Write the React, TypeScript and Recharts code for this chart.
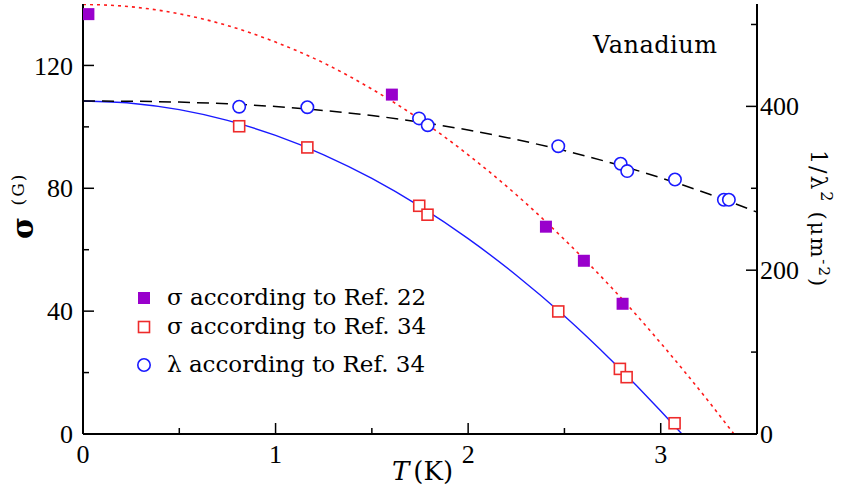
import React from 'react';
import { ComposedChart, Line, Scatter, XAxis, YAxis, Legend, Customized } from 'recharts';

const FONT_TEXT = 'DejaVu Serif';
const FONT_NUM = 'Liberation Serif';

// sigma according to Ref. 22 (filled purple squares)
const ref22T = [0.028, 1.604, 2.404, 2.601, 2.802];
const ref22Sigma = [136.7, 110.5, 67.5, 56.4, 42.4];

// sigma according to Ref. 34 (open red squares)
const ref34T = [0.811, 1.165, 1.746, 1.789, 2.468, 2.788, 2.823, 3.072];
const ref34Sigma = [100.2, 93.3, 74.3, 71.4, 39.9, 21.2, 18.5, 3.5];

// 1/lambda^2 according to Ref. 34 (open blue circles, right axis)
const lambdaT = [0.811, 1.165, 1.745, 1.79, 2.468, 2.792, 2.826, 3.074, 3.328, 3.354];
const lambdaInv2 = [399.6, 399.0, 385.3, 377.0, 351.4, 330.0, 321.0, 310.7, 286.0, 286.0];

// red dotted curve (left axis)
const redCurveT = [0, 0.25, 0.5, 0.75, 1, 1.25, 1.5, 1.75, 2, 2.25, 2.5, 2.75, 3, 3.25, 3.38];
const redCurveSigma = [139.9, 139.1, 136.8, 133.0, 127.6, 120.8, 112.3, 102.4, 90.9, 77.9, 63.3, 47.3, 29.6, 10.5, 0];

// blue solid curve (left axis)
const blueCurveT = [0, 0.25, 0.5, 0.75, 1, 1.25, 1.5, 1.75, 2, 2.25, 2.5, 2.75, 3, 3.11];
const blueCurveSigma = [108.4, 107.7, 105.6, 102.1, 97.2, 90.9, 83.2, 74.1, 63.6, 51.7, 38.4, 23.6, 7.5, 0];

// black dashed curve (right axis)
const blackCurveT = [0, 0.25, 0.5, 0.75, 1, 1.25, 1.5, 1.75, 2, 2.25, 2.5, 2.75, 3, 3.25, 3.5];
const blackCurveInv2 = [406.5, 406.3, 405.2, 403.1, 399.8, 395.0, 388.8, 380.8, 371.1, 359.5, 346.0, 330.5, 312.8, 293.0, 270.9];

// ticks
const xTicks = [0, 0.5, 1, 1.5, 2, 2.5, 3];
const xTickLabels = ['0', '', '1', '', '2', '', '3'];
const leftTicks = [0, 20, 40, 60, 80, 100, 120];
const leftTickLabels = ['0', '', '40', '', '80', '', '120'];
const rightTicks = [0, 100, 200, 300, 400, 500];
const rightTickLabels = ['0', '', '200', '', '400', ''];

const legendNames = ['σ according to Ref. 22', 'σ according to Ref. 34', 'λ according to Ref. 34'];

const zip = (xs: number[], ys: number[]) => xs.map((T, i) => ({ T, v: ys[i] }));

const ref22Data = zip(ref22T, ref22Sigma);
const ref34Data = zip(ref34T, ref34Sigma);
const lambdaData = zip(lambdaT, lambdaInv2);
const redCurve = zip(redCurveT, redCurveSigma);
const blueCurve = zip(blueCurveT, blueCurveSigma);
const blackCurve = zip(blackCurveT, blackCurveInv2);

const PURPLE = '#9900cc';
const RED = '#ee2b2b';
const BLUE = '#1a1aff';

const MAJOR = 11;
const MINOR = 6;

const numStyle: React.CSSProperties = { fontFamily: FONT_NUM, fontSize: 26 };
const textStyle = (size: number, extra: React.CSSProperties = {}): React.CSSProperties => ({
  fontFamily: FONT_TEXT,
  fontSize: size,
  ...extra,
});

const labelFor = (ticks: number[], labels: string[], v: number) => {
  const i = ticks.indexOf(v);
  return i >= 0 ? labels[i] : '';
};

const BottomTick = (props: any) => {
  const { x, y, payload } = props;
  const lab = labelFor(xTicks, xTickLabels, payload.value);
  const len = lab ? MAJOR : MINOR;
  return (
    <g>
      <line x1={x} x2={x} y1={y} y2={y - len} stroke="#000" strokeWidth={1.5} />
      {lab && (
        <text x={x} y={y + 20} dy="0.35em" textAnchor="middle" style={numStyle} fill="#000">
          {lab}
        </text>
      )}
    </g>
  );
};

const TopTick = (props: any) => {
  const { x, y, payload } = props;
  const lab = labelFor(xTicks, xTickLabels, payload.value);
  const len = lab ? MAJOR : MINOR;
  return <line x1={x} x2={x} y1={y} y2={y + len} stroke="#000" strokeWidth={1.5} />;
};

const LeftTick = (props: any) => {
  const { x, y, payload } = props;
  const lab = labelFor(leftTicks, leftTickLabels, payload.value);
  const len = lab ? MAJOR : MINOR;
  return (
    <g>
      <line x1={x} x2={x + len} y1={y} y2={y} stroke="#000" strokeWidth={1.5} />
      {lab && (
        <text x={x - 10} y={y} dy="0.35em" textAnchor="end" style={numStyle} fill="#000">
          {lab}
        </text>
      )}
    </g>
  );
};

const RightTick = (props: any) => {
  const { x, y, payload } = props;
  const lab = labelFor(rightTicks, rightTickLabels, payload.value);
  const len = lab ? MAJOR : MINOR;
  return (
    <g>
      <line x1={x - len} x2={x} y1={y} y2={y} stroke="#000" strokeWidth={1.5} />
      {lab && (
        <text x={x + 3} y={y} dy="0.35em" textAnchor="start" style={numStyle} fill="#000">
          {lab}
        </text>
      )}
    </g>
  );
};

const FilledSquare = (props: any) => {
  const { cx, cy } = props;
  if (cx == null || cy == null) return null;
  return <rect x={cx - 6} y={cy - 6} width={12} height={12} fill={PURPLE} />;
};

const OpenSquare = (props: any) => {
  const { cx, cy } = props;
  if (cx == null || cy == null) return null;
  return <rect x={cx - 5.5} y={cy - 5.5} width={11} height={11} fill="#fff" stroke={RED} strokeWidth={1.6} />;
};

const OpenCircle = (props: any) => {
  const { cx, cy } = props;
  if (cx == null || cy == null) return null;
  return <circle cx={cx} cy={cy} r={6.2} fill="#fff" stroke={BLUE} strokeWidth={1.6} />;
};

const legendRowY = [15, 44, 82];

const renderLegend = () => (
  <svg width={330} height={100} style={{ display: 'block' }}>
    {legendNames.map((name, i) => {
      const cy = legendRowY[i];
      const mx = 16;
      let marker = null;
      if (i === 0) marker = <rect x={mx - 6} y={cy - 6} width={12} height={12} fill={PURPLE} />;
      else if (i === 1)
        marker = <rect x={mx - 5.5} y={cy - 5.5} width={11} height={11} fill="#fff" stroke={RED} strokeWidth={1.6} />;
      else marker = <circle cx={mx} cy={cy} r={6.2} fill="#fff" stroke={BLUE} strokeWidth={1.6} />;
      return (
        <g key={i}>
          {marker}
          <text x={39} y={cy + 7} style={textStyle(23)} fill="#000">
            {name}
          </text>
        </g>
      );
    })}
  </svg>
);

const Annotations = () => (
  <g>
    <text x={593} y={53} style={textStyle(24, { letterSpacing: 0.5 })} fill="#000">
      Vanadium
    </text>
    <text
      x={33}
      y={228}
      transform="rotate(-90 33 228)"
      textAnchor="middle"
      style={textStyle(30, { fontWeight: 'bold' })}
      fill="#000"
    >
      σ
    </text>
    <text
      x={24}
      y={189}
      transform="rotate(-90 24 189)"
      textAnchor="middle"
      style={textStyle(17, { letterSpacing: 2 })}
      fill="#000"
    >
      (G)
    </text>
    <text x={392} y={480} style={textStyle(26)} fill="#000">
      <tspan fontStyle="italic">T</tspan>
      <tspan dx={4}>(K)</tspan>
    </text>
    <text
      x={811}
      y={150}
      transform="rotate(90 811 150)"
      style={textStyle(22, { letterSpacing: 2 })}
      fill="#000"
    >
      1/λ
      <tspan fontSize={16} dy={-10}>2</tspan>
      <tspan fontSize={21} dx={8} dy={10}>(μm</tspan>
      <tspan fontSize={15} dy={-8}>-2</tspan>
      <tspan fontSize={21} dy={8}>)</tspan>
    </text>
  </g>
);

export default function App() {
  return (
    <div style={{ position: 'absolute', left: 0, top: 0, width: 843, height: 493, background: '#fff' }}>
      <ComposedChart width={843} height={493} margin={{ top: 4, right: 0, bottom: 0, left: 0 }}>
        <XAxis
          xAxisId="bottom"
          dataKey="T"
          type="number"
          domain={[0, 3.5]}
          allowDataOverflow
          ticks={xTicks}
          interval={0}
          height={59}
          tickSize={0}
          tickMargin={0}
          axisLine={{ stroke: '#000', strokeWidth: 2 }}
          tickLine={false}
          tick={<BottomTick />}
        />
        <XAxis
          xAxisId="top"
          orientation="top"
          dataKey="T"
          type="number"
          domain={[0, 3.5]}
          allowDataOverflow
          ticks={xTicks}
          interval={0}
          height={0}
          tickSize={0}
          tickMargin={0}
          axisLine={{ stroke: '#000', strokeWidth: 2 }}
          tickLine={false}
          tick={<TopTick />}
        />
        <YAxis
          yAxisId="left"
          type="number"
          domain={[0, 140]}
          allowDataOverflow
          ticks={leftTicks}
          interval={0}
          width={83}
          tickSize={0}
          tickMargin={0}
          axisLine={{ stroke: '#000', strokeWidth: 2 }}
          tickLine={false}
          tick={<LeftTick />}
        />
        <YAxis
          yAxisId="right"
          orientation="right"
          type="number"
          domain={[0, 525]}
          allowDataOverflow
          ticks={rightTicks}
          interval={0}
          width={86}
          tickSize={0}
          tickMargin={0}
          axisLine={{ stroke: '#000', strokeWidth: 2 }}
          tickLine={false}
          tick={<RightTick />}
        />
        <Line
          xAxisId="bottom"
          yAxisId="left"
          data={redCurve}
          dataKey="v"
          type="monotone"
          stroke="#ff1a1a"
          strokeWidth={1.6}
          strokeDasharray="3 4"
          dot={false}
          activeDot={false}
          legendType="none"
          isAnimationActive={false}
        />
        <Line
          xAxisId="bottom"
          yAxisId="left"
          data={blueCurve}
          dataKey="v"
          type="monotone"
          stroke={BLUE}
          strokeWidth={1.4}
          dot={false}
          activeDot={false}
          legendType="none"
          isAnimationActive={false}
        />
        <Line
          xAxisId="bottom"
          yAxisId="right"
          data={blackCurve}
          dataKey="v"
          type="monotone"
          stroke="#000"
          strokeWidth={1.5}
          strokeDasharray="12 7"
          dot={false}
          activeDot={false}
          legendType="none"
          isAnimationActive={false}
        />
        <Scatter
          name={legendNames[0]}
          xAxisId="bottom"
          yAxisId="left"
          data={ref22Data}
          dataKey="v"
          shape={<FilledSquare />}
          fill={PURPLE}
          isAnimationActive={false}
        />
        <Scatter
          name={legendNames[1]}
          xAxisId="bottom"
          yAxisId="left"
          data={ref34Data}
          dataKey="v"
          shape={<OpenSquare />}
          fill={RED}
          isAnimationActive={false}
        />
        <Scatter
          name={legendNames[2]}
          xAxisId="bottom"
          yAxisId="right"
          data={lambdaData}
          dataKey="v"
          shape={<OpenCircle />}
          fill={BLUE}
          isAnimationActive={false}
        />
        <Legend
          layout="vertical"
          align="center"
          verticalAlign="middle"
          content={renderLegend}
          wrapperStyle={{ position: 'absolute', left: 128, top: 283, width: 330, height: 100 }}
        />
        <Customized component={<Annotations />} />
      </ComposedChart>
    </div>
  );
}
